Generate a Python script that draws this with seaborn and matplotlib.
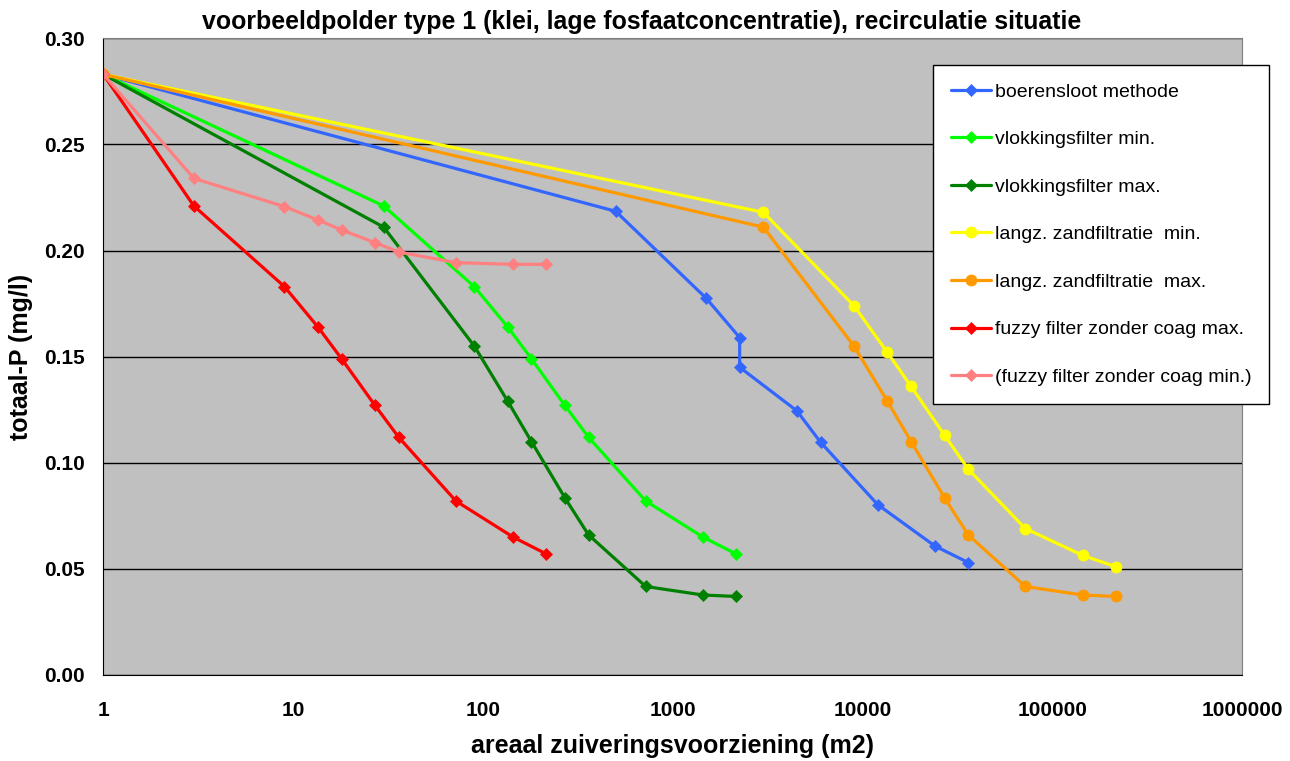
import pandas as pd
import matplotlib
matplotlib.use("Agg")
import matplotlib.pyplot as plt
import seaborn as sns

# data
x_boer = [1, 500, 1500, 2250, 2250, 4500, 6000, 12000, 24000, 36000]
y_boer = [0.283, 0.2185, 0.1775, 0.159, 0.145, 0.1245, 0.1097, 0.0803, 0.0608, 0.053]

x_vlok = [1, 30, 90, 135, 180, 270, 360, 720, 1440, 2160]
y_vlok_min = [0.283, 0.221, 0.183, 0.164, 0.149, 0.127, 0.112, 0.082, 0.065, 0.057]
y_vlok_max = [0.283, 0.211, 0.155, 0.129, 0.110, 0.0835, 0.066, 0.0417, 0.0377, 0.037]

x_zand = [1, 3000, 9000, 13500, 18000, 27000, 36000, 72000, 144000, 216000]
y_zand_min = [0.283, 0.218, 0.174, 0.152, 0.136, 0.113, 0.097, 0.069, 0.0564, 0.051]
y_zand_max = [0.283, 0.211, 0.155, 0.129, 0.110, 0.0835, 0.066, 0.0417, 0.0377, 0.037]

x_fuzzy = [1, 3, 9, 13.5, 18, 27, 36, 72, 144, 216]
y_fuzzy_max = [0.283, 0.221, 0.183, 0.164, 0.149, 0.127, 0.112, 0.082, 0.065, 0.057]
y_fuzzy_min = [0.283, 0.234, 0.2207, 0.2144, 0.2097, 0.2037, 0.1993, 0.1943, 0.1935, 0.1935]

labels = ["boerensloot methode", "vlokkingsfilter min.", "vlokkingsfilter max.",
          "langz. zandfiltratie  min.", "langz. zandfiltratie  max.",
          "fuzzy filter zonder coag max.", "(fuzzy filter zonder coag min.)"]
xs = [x_boer, x_vlok, x_vlok, x_zand, x_zand, x_fuzzy, x_fuzzy]
ys = [y_boer, y_vlok_min, y_vlok_max, y_zand_min, y_zand_max, y_fuzzy_max, y_fuzzy_min]
colors = ["#3366FF", "#00FF00", "#008000", "#FFFF00", "#FF9900", "#FF0000", "#FF8080"]
markers = ["D", "D", "D", "o", "o", "D", "D"]

x_ticks = [1, 10, 100, 1000, 10000, 100000, 1000000]
y_ticks = [0.00, 0.05, 0.10, 0.15, 0.20, 0.25, 0.30]

sns.set_style("white")
plt.rcParams['font.family'] = ['Liberation Sans', 'DejaVu Sans']
plt.rcParams['text.color'] = 'black'
plt.rcParams['axes.labelcolor'] = 'black'
plt.rcParams['xtick.color'] = 'black'
plt.rcParams['ytick.color'] = 'black'

fig = plt.figure(figsize=(12.9, 7.61), dpi=100)
ax = fig.add_axes([103.3/1290, 1-675/761, 1139/1290, 636.7/761])
ax.set_facecolor("#C0C0C0")

for x, y, c, m, lab in zip(xs, ys, colors, markers, labels):
    df = pd.DataFrame({"x": x, "y": y})
    ms = 6.5 if m == "D" else 8
    sns.lineplot(data=df, x="x", y="y", ax=ax, color=c, marker=m, markersize=ms,
                 markeredgecolor=c, markeredgewidth=0.5, linewidth=2.3,
                 label=lab, sort=False, estimator=None)

ax.set_xscale("log")
ax.set_xlim(1, 1000000)
ax.set_ylim(0, 0.30)
ax.set_xticks(x_ticks)
ax.set_xticklabels([str(t) for t in x_ticks])
ax.xaxis.set_minor_locator(matplotlib.ticker.NullLocator())
ax.set_yticks(y_ticks)
ax.set_yticklabels([f"{t:.2f}" for t in y_ticks])
ax.tick_params(axis="both", labelsize=15, direction="out", width=1, color="black",
               labelcolor="black")
ax.tick_params(axis="y", length=7, pad=6)
ax.tick_params(axis="x", length=5, pad=14)
for lab in ax.get_xticklabels() + ax.get_yticklabels():
    lab.set_fontweight("bold")

ax.grid(axis="y", color="black", linewidth=1)
ax.grid(axis="x", visible=False)
ax.set_axisbelow(True)
for s in ["top", "right"]:
    ax.spines[s].set_color("#808080")
for s in ["left", "bottom"]:
    ax.spines[s].set_color("black")

ax.set_xlabel("areaal zuiveringsvoorziening (m2)", fontsize=18, fontweight="bold",
              va="center", color="black")
ax.set_ylabel("totaal-P (mg/l)", fontsize=18, fontweight="bold", va="center", color="black")
ax.xaxis.set_label_coords(0.5, -0.111)
ax.yaxis.set_label_coords(-0.0723, 0.5)

fig.text(0.4977, 1-22/761, "voorbeeldpolder type 1 (klei, lage fosfaatconcentratie), recirculatie situatie",
         ha="center", va="center", fontsize=17.9, fontweight="bold", color="black")

leg = ax.legend(loc="upper left", bbox_to_anchor=(0.7285, 0.958), borderaxespad=0,
                fontsize=14, frameon=True, fancybox=False, framealpha=1,
                edgecolor="black", labelspacing=1.54, handlelength=2.06,
                handletextpad=0.2, borderpad=0.92)
leg.get_frame().set_linewidth(1)
for t in leg.get_texts():
    t.set_color("black")

fig.savefig("out.png", dpi=100)
